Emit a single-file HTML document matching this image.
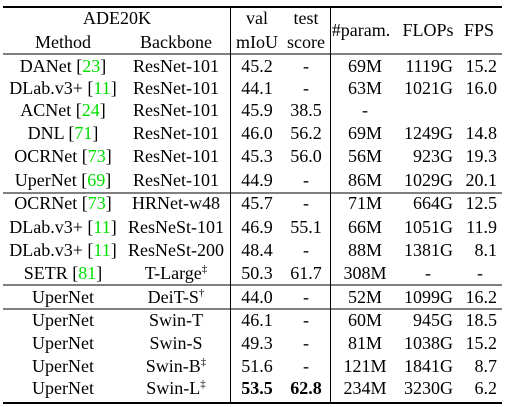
<!DOCTYPE html>
<html><head><meta charset="utf-8"><style>
html,body{margin:0;padding:0;background:#fff;width:507px;height:407px;overflow:hidden}
svg text{font-family:"Liberation Serif",serif;font-size:18px;fill:#000}
.g{fill:#00e000}
</style></head><body>
<svg width="507" height="407" xmlns="http://www.w3.org/2000/svg">
<g stroke="#000">
<line x1="3" y1="7" x2="502" y2="7" stroke-width="2"/>
<line x1="3" y1="54" x2="502" y2="54" stroke-width="1"/>
<line x1="3" y1="193" x2="502" y2="193" stroke-width="1"/>
<line x1="3" y1="285" x2="502" y2="285" stroke-width="1"/>
<line x1="3" y1="309" x2="502" y2="309" stroke-width="1"/>
<line x1="3" y1="403" x2="502" y2="403" stroke-width="2"/>
<line x1="230.5" y1="7" x2="230.5" y2="403" stroke-width="1"/>
<line x1="330.5" y1="7" x2="330.5" y2="403" stroke-width="1"/>
</g>
<g>
<text x="117" y="24" text-anchor="middle">ADE20K</text>
<text x="63" y="48" text-anchor="middle">Method</text>
<text x="176" y="48" text-anchor="middle">Backbone</text>
<text x="257" y="24" text-anchor="middle">val</text>
<text x="257" y="48" text-anchor="middle">mIoU</text>
<text x="306" y="24" text-anchor="middle">test</text>
<text x="306" y="48" text-anchor="middle">score</text>
<text x="361" y="36" text-anchor="middle">#param.</text>
<text x="428" y="36" text-anchor="middle">FLOPs</text>
<text x="479" y="36" text-anchor="middle">FPS</text>
</g>
<g id="rows"></g>
</svg>
<script>
const methods=[["DANet","23"],["DLab.v3+","11"],["ACNet","24"],["DNL","71"],["OCRNet","73"],["UperNet","69"],["OCRNet","73"],["DLab.v3+","11"],["DLab.v3+","11"],["SETR","81"],["UperNet",""],["UperNet",""],["UperNet",""],["UperNet",""],["UperNet",""]];
const backbones=[["ResNet-101",""],["ResNet-101",""],["ResNet-101",""],["ResNet-101",""],["ResNet-101",""],["ResNet-101",""],["HRNet-w48",""],["ResNeSt-101",""],["ResNeSt-200",""],["T-Large","‡"],["DeiT-S","†"],["Swin-T",""],["Swin-S",""],["Swin-B","‡"],["Swin-L","‡"]];
const vals=["45.2","44.1","45.9","46.0","45.3","44.9","45.7","46.9","48.4","50.3","44.0","46.1","49.3","51.6","53.5"];
const tests=["-","-","38.5","56.2","56.0","-","-","55.1","-","61.7","-","-","-","-","62.8"];
const params=["69M","63M","-","69M","56M","86M","71M","66M","88M","308M","52M","60M","81M","121M","234M"];
const flops=["1119G","1021G","","1249G","923G","1029G","664G","1051G","1381G","-","1099G","945G","1038G","1841G","3230G"];
const fps=["15.2","16.0","","14.8","19.3","20.1","12.5","11.9","8.1","-","16.2","18.5","15.2","8.7","6.2"];
const rowY=[66,88,110,133,156,180,203,227,250,273,297,320,343,366,388];
const NS="http://www.w3.org/2000/svg";
const g=document.getElementById('rows');
function txt(parent,x,y,anchor,name){const t=document.createElementNS(NS,'text');t.setAttribute('x',x);t.setAttribute('y',y);t.setAttribute('text-anchor',anchor);


parent.appendChild(t);return t;}
function span(t,s,cls,extra){const e=document.createElementNS(NS,'tspan');e.textContent=s;if(cls)e.setAttribute('class',cls);if(extra)for(const k in extra)e.setAttribute(k,extra[k]);t.appendChild(e);}
for(let i=0;i<vals.length;i++){
const y=rowY[i]+6;
const r=document.createElementNS(NS,'g');


g.appendChild(r);
let t=txt(r,63,y,'middle','method-cell');
span(t,methods[i][0]);
if(methods[i][1]){span(t,' [');span(t,methods[i][1],'g');span(t,']');}
t=txt(r,176,y,'middle','backbone-cell');
span(t,backbones[i][0]);
if(backbones[i][1])span(t,backbones[i][1],null,{dy:'-7','font-size':'11'});
const best=i===vals.length-1;
t=txt(r,257,y,'middle','val-miou-cell');span(t,vals[i],null,best?{'font-weight':'bold'}:null);
t=txt(r,306,y,'middle','test-score-cell');span(t,tests[i],null,best?{'font-weight':'bold'}:null);
t=txt(r,365,y,'middle','param-cell');span(t,params[i]);
if(flops[i]==='-'){t=txt(r,428,y,'middle','flops-cell');}else{t=txt(r,453,y,'end','flops-cell');}
span(t,flops[i]);
if(fps[i]==='-'){t=txt(r,480,y,'middle','fps-cell');}else{t=txt(r,497,y,'end','fps-cell');}
span(t,fps[i]);
}
</script>
</body></html>
